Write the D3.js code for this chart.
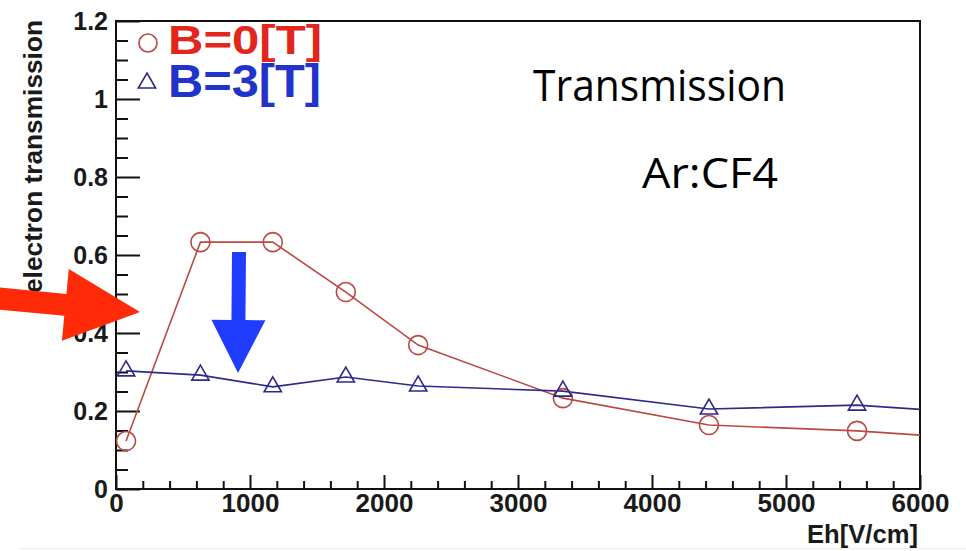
<!DOCTYPE html>
<html>
<head>
<meta charset="utf-8">
<script src="https://cdn.jsdelivr.net/npm/d3@7"></script>
<style>
  html, body { margin: 0; padding: 0; background: #ffffff; }
  svg { display: block; }
  .tick text { font-family: "Liberation Sans", Arial, sans-serif; font-weight: bold; fill: #1a1a1a; }
</style>
</head>
<body>
<svg id="chart" width="966" height="551"></svg>
<script>
// Drift field Eh [V/cm] at each measurement
const fieldEh = [75, 630, 1170, 1715, 2255, 3335, 4425, 5530, 6620];
// Electron transmission without and with magnetic field
const transB0 = [0.123, 0.633, 0.633, 0.505, 0.369, 0.233, 0.164, 0.149, 0.124];
const transB3 = [0.303, 0.292, 0.262, 0.287, 0.264, 0.251, 0.205, 0.215, 0.190];
const seriesNames = ["B=0[T]", "B=3[T]"];

const xMajorTicks = [0, 1000, 2000, 3000, 4000, 5000, 6000];
const xTickLabels = ["0", "1000", "2000", "3000", "4000", "5000", "6000"];
const yMajorTicks = [0, 0.2, 0.4, 0.6, 0.8, 1.0, 1.2];
const yTickLabels = ["0", "0.2", "0.4", "0.6", "0.8", "1", "1.2"];

const svg = d3.select("#chart");
const W = 966, H = 551;
const frame = { left: 116, right: 920, top: 21, bottom: 489 };

const x = d3.scaleLinear().domain([0, 6000]).range([frame.left, frame.right]);
const y = d3.scaleLinear().domain([0, 1.2]).range([frame.bottom, frame.top]);

const redLine = "#bb4842", blueLine = "#2b2b8c";

svg.append("rect").attr("width", W).attr("height", H).attr("fill", "#ffffff");
// faint lower edge of the canvas
svg.append("line").attr("x1", 18).attr("x2", W).attr("y1", 548.5).attr("y2", 548.5)
  .attr("stroke", "#ececec").attr("stroke-width", 1);

// clip region of the plotting frame
svg.append("defs").append("clipPath").attr("id", "frameClip")
  .append("rect")
  .attr("x", frame.left).attr("y", frame.top)
  .attr("width", frame.right - frame.left).attr("height", frame.bottom - frame.top);

// minor and major ticks, drawn inward
const xMinor = d3.range(0, 6001, 200).filter(v => v % 1000 !== 0);
const yMinor = d3.range(0, 1.2001, 0.05).map(v => +v.toFixed(2)).filter(v => Math.abs(v * 5 - Math.round(v * 5)) > 1e-6);

svg.append("g")
  .attr("transform", `translate(0,${frame.bottom})`)
  .call(d3.axisBottom(x).tickValues(xMinor).tickFormat("").tickSize(-8))
  .call(g => g.select(".domain").remove())
  .call(g => g.selectAll("line").attr("stroke", "#111").attr("stroke-width", 2));

svg.append("g")
  .attr("transform", `translate(0,${frame.bottom})`)
  .call(d3.axisBottom(x).tickValues(xMajorTicks)
    .tickFormat((d, i) => xTickLabels[i]).tickSize(-14).tickPadding(4))
  .call(g => g.select(".domain").remove())
  .call(g => g.selectAll("line").attr("stroke", "#111").attr("stroke-width", 2))
  .call(g => g.selectAll("text").attr("font-size", 26).attr("dy", "0.74em"));

svg.append("g")
  .attr("transform", `translate(${frame.left},0)`)
  .call(d3.axisLeft(y).tickValues(yMinor).tickFormat("").tickSize(-12))
  .call(g => g.select(".domain").remove())
  .call(g => g.selectAll("line").attr("stroke", "#111").attr("stroke-width", 2));

svg.append("g")
  .attr("transform", `translate(${frame.left},0)`)
  .call(d3.axisLeft(y).tickValues(yMajorTicks)
    .tickFormat((d, i) => yTickLabels[i]).tickSize(-24).tickPadding(8))
  .call(g => g.select(".domain").remove())
  .call(g => g.selectAll("line").attr("stroke", "#111").attr("stroke-width", 2))
  .call(g => g.selectAll("text").attr("font-size", 25));

// frame box
svg.append("rect")
  .attr("x", frame.left).attr("y", frame.top)
  .attr("width", frame.right - frame.left).attr("height", frame.bottom - frame.top)
  .attr("fill", "none").attr("stroke", "#111").attr("stroke-width", 2);

// axis titles
svg.append("text")
  .attr("x", 918).attr("y", 543)
  .attr("text-anchor", "end")
  .attr("font-family", "Liberation Sans, Arial, sans-serif")
  .attr("font-weight", "bold").attr("font-size", 26).attr("fill", "#1a1a1a")
  .attr("textLength", 111).attr("lengthAdjust", "spacingAndGlyphs")
  .text("Eh[V/cm]");

svg.append("text")
  .attr("transform", "translate(42,20) rotate(-90)")
  .attr("text-anchor", "end")
  .attr("font-family", "Liberation Sans, Arial, sans-serif")
  .attr("font-weight", "bold").attr("font-size", 25).attr("fill", "#1a1a1a")
  .attr("textLength", 273).attr("lengthAdjust", "spacingAndGlyphs")
  .text("electron transmission");

// data series
const plot = svg.append("g").attr("clip-path", "url(#frameClip)");
const line = d3.line().x(d => x(d[0])).y(d => y(d[1]));
const b0 = fieldEh.map((e, i) => [e, transB0[i]]);
const b3 = fieldEh.map((e, i) => [e, transB3[i]]);

plot.append("path").datum(b0).attr("d", line)
  .attr("fill", "none").attr("stroke", redLine).attr("stroke-width", 1.6);
plot.append("path").datum(b3).attr("d", line)
  .attr("fill", "none").attr("stroke", blueLine).attr("stroke-width", 1.6);

plot.selectAll("circle.b0").data(b0).join("circle")
  .attr("class", "b0")
  .attr("cx", d => x(d[0])).attr("cy", d => y(d[1])).attr("r", 9.5)
  .attr("fill", "none").attr("stroke", redLine).attr("stroke-width", 1.6);

const tri = d3.symbol(d3.symbolTriangle, 130);
plot.selectAll("path.b3").data(b3).join("path")
  .attr("class", "b3")
  .attr("d", tri)
  .attr("transform", d => `translate(${x(d[0])},${y(d[1])})`)
  .attr("fill", "none").attr("stroke", blueLine).attr("stroke-width", 1.6);

// legend
svg.append("circle").attr("cx", 148).attr("cy", 43).attr("r", 9)
  .attr("fill", "none").attr("stroke", redLine).attr("stroke-width", 1.6);
svg.append("path").attr("d", tri).attr("transform", "translate(147,83)")
  .attr("fill", "none").attr("stroke", blueLine).attr("stroke-width", 1.6);

svg.append("text").attr("x", 168).attr("y", 54)
  .attr("font-family", "Liberation Sans, Arial, sans-serif").attr("font-weight", "bold")
  .attr("font-size", 41).attr("fill", "#e2261c")
  .attr("textLength", 154).attr("lengthAdjust", "spacingAndGlyphs")
  .text(seriesNames[0]);
svg.append("text").attr("x", 168).attr("y", 97)
  .attr("font-family", "Liberation Sans, Arial, sans-serif").attr("font-weight", "bold")
  .attr("font-size", 46).attr("fill", "#2233cc")
  .attr("textLength", 153).attr("lengthAdjust", "spacingAndGlyphs")
  .text(seriesNames[1]);

// annotations
svg.append("text").attr("x", 533).attr("y", 101)
  .attr("font-family", "Comic Sans MS, Open Sans, sans-serif")
  .attr("font-size", 44).attr("fill", "#000")
  .attr("textLength", 253).attr("lengthAdjust", "spacingAndGlyphs")
  .text("Transmission");
svg.append("text").attr("x", 642).attr("y", 188)
  .attr("font-family", "Comic Sans MS, Open Sans, sans-serif")
  .attr("font-size", 42).attr("fill", "#000")
  .attr("textLength", 136).attr("lengthAdjust", "spacingAndGlyphs")
  .text("Ar:CF4");

// block arrows: shaft half-width, head length, head half-width
function blockArrow(x0, y0, x1, y1, sw, hl, hw) {
  const dx = x1 - x0, dy = y1 - y0, L = Math.hypot(dx, dy);
  const ux = dx / L, uy = dy / L, px = -uy, py = ux;
  const bx = x1 - ux * hl, by = y1 - uy * hl;
  const pts = [
    [x0 + px * sw, y0 + py * sw],
    [bx + px * sw, by + py * sw],
    [bx + px * hw, by + py * hw],
    [x1, y1],
    [bx - px * hw, by - py * hw],
    [bx - px * sw, by - py * sw],
    [x0 - px * sw, y0 - py * sw]
  ];
  return "M" + pts.map(p => p.join(",")).join("L") + "Z";
}
svg.append("path").attr("d", blockArrow(-6, 298, 140, 312, 11, 75, 36)).attr("fill", "#ff2a08");
svg.append("path").attr("d", blockArrow(239, 252, 238, 373, 7, 53, 27)).attr("fill", "#1f3cff");
</script>
</body>
</html>
